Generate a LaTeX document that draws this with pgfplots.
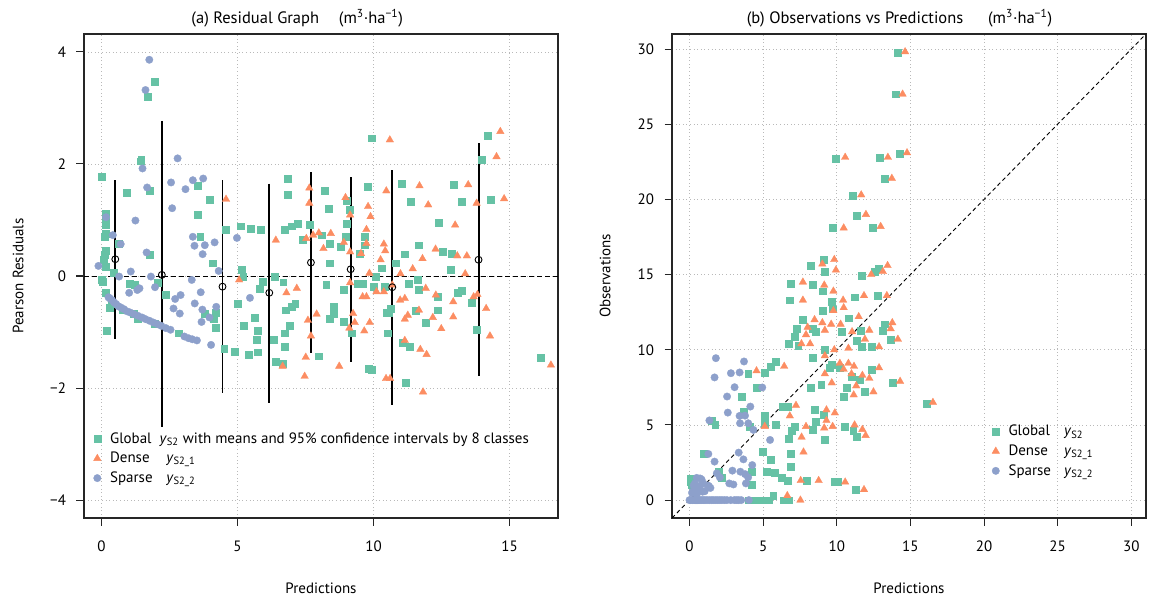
\documentclass[border=0pt]{standalone}
\usepackage{fontspec}
\setmainfont{PT Sans}
\usepackage{pgfplots}
\pgfplotsset{compat=1.18}

\definecolor{cG}{HTML}{66C2A5}
\definecolor{cD}{HTML}{FC8D62}
\definecolor{cS}{HTML}{8DA0CB}

\pgfplotsset{
  rstyle/.style={
    scale only axis, width=316pt, height=322.67pt,
    axis line style={line width=0.7pt, black!85},
    tick style={line width=0.7pt, black!85},
    tick align=outside, major tick length=5pt,
    xtick pos=bottom, ytick pos=left,
    grid=major, major grid style={dotted, gray!55, line width=0.5pt},
    ticklabel style={font=\fontsize{10}{12}\selectfont},
    label style={font=\fontsize{10}{12}\selectfont},
    title style={font=\fontsize{11}{13}\selectfont},
    xticklabel shift=6.5pt, yticklabel shift=3.5pt,
    xlabel style={at={(axis description cs:0.5,0)}, anchor=center, yshift=-46.7pt},
    legend style={draw=none, fill=none, font=\fontsize{10}{12}\selectfont, row sep=0.5pt,
      /tikz/every odd column/.append style={column sep=4pt}},
    legend cell align=left,
    /pgf/number format/assume math mode=true,
  },
  gS/.style={only marks, mark=square*, mark size=2.3pt, mark options={fill=cG, draw=cG, line width=0.2pt}},
  dS/.style={only marks, mark=triangle*, mark size=2.9pt, mark options={fill=cD, draw=cD, line width=0.2pt}},
  sS/.style={only marks, mark=*, mark size=2.5pt, mark options={fill=cS, draw=cS, line width=0.2pt}},
}

\begin{document}
\begin{tikzpicture}
\path[use as bounding box] (0,0) rectangle (782.67pt,398.67pt);

% (a) residuals
\begin{axis}[rstyle,
  at={(56pt,53.33pt)}, anchor=south west,
  xmin=-0.64, xmax=16.78, ymin=-4.32, ymax=4.32,
  xtick={0,5,10,15},
  ytick={-4,-2,0,2,4}, yticklabels={−4,−2,0,2,4},
  xlabel={Predictions},
  ylabel={Pearson Residuals},
  ylabel style={at={(axis description cs:-0.139,0.5)}, anchor=center},
  title={(a) Residual Graph\hspace{1.2em}(m\textsuperscript{3}·ha\textsuperscript{−1})},
  title style={at={(axis description cs:0.45,1)}, anchor=center, yshift=4.7pt},
  legend style={at={(axis description cs:0.01,0.19)}, anchor=north west},
]
\addplot[gS] coordinates {
(0.02,1.77)(0.14,1.12)(0.17,1.03)(0.16,0.91)(0.14,0.76)(0.11,0.70)(0.14,0.46)(0.11,0.38)
(0.08,0.29)(0.16,0.17)(0.46,0.06)(0.02,-0.06)(0.05,-0.10)(0.14,-0.30)(0.31,-0.56)(0.37,-0.49)
(0.19,-0.98)(0.94,1.48)(0.63,0.58)(1.45,2.05)(1.77,1.52)(1.77,0.38)(1.05,-0.13)(1.22,-0.15)
(0.77,-0.61)(1.17,-0.67)(1.34,-0.76)(1.97,-0.85)(2.08,-0.12)(2.37,-0.34)(2.83,-1.02)(3.54,1.61)
(3.54,1.09)(3.63,0.70)(3.99,1.36)(4.08,0.23)(3.80,-0.67)(4.14,-0.76)(4.20,-0.92)(4.20,-0.65)
(4.57,0.83)(4.51,-1.29)(4.91,-1.35)(5.11,0.89)(5.14,0.11)(5.21,-0.01)(5.00,-0.50)(5.23,-0.88)
(5.40,-1.41)(5.74,-1.36)(5.49,0.85)(5.84,0.82)(5.63,-0.74)(5.74,-0.98)(5.69,-1.14)(5.80,-0.22)
(5.92,-0.10)(6.37,-0.01)(6.32,-1.13)(6.41,-1.53)(6.66,-1.56)(6.72,-1.26)(6.75,-1.02)(6.77,-0.61)
(7.00,-0.54)(7.12,-0.50)(6.91,-0.88)(6.68,-0.11)(6.72,0.83)(6.98,0.89)(7.20,0.94)(6.85,1.73)
(6.83,1.46)(7.38,0.65)(7.65,0.91)(7.97,-1.43)(8.20,1.52)(8.35,1.20)(8.40,0.23)(8.26,-0.16)
(8.40,0.58)(8.55,-0.55)(8.55,-0.67)(8.38,-0.76)(8.78,0.52)(1.94,3.47)(1.70,3.20)(1.46,2.07)
(9.92,2.46)(8.10,0.73)(9.02,1.35)(9.11,1.18)(9.00,0.94)(8.97,0.70)(9.66,0.70)(9.69,0.55)
(9.77,1.60)(9.48,0.40)(8.91,-0.25)(9.43,-0.14)(9.60,-0.14)(10.00,-0.19)(10.08,-0.01)(10.31,0.14)
(10.80,0.23)(11.15,0.39)(11.03,1.65)(11.38,1.33)(11.67,0.55)(11.63,-0.07)(11.29,-0.13)(11.67,-0.25)
(10.63,-0.58)(10.49,-0.65)(11.55,-0.62)(11.90,-0.83)(12.36,-0.61)(12.36,-0.37)(12.41,0.95)(12.53,0.43)
(12.87,0.40)(12.82,0.11)(12.95,1.63)(13.25,1.33)(13.10,-0.30)(13.25,-0.26)(13.62,-0.48)(13.79,-0.96)
(13.99,2.08)(14.20,2.50)(14.31,1.37)(10.52,-1.02)(9.83,-1.65)(9.94,-1.67)(11.18,-1.90)(11.07,-1.19)
(11.34,-1.26)(16.13,-1.45)(9.20,-1.02)(8.91,-0.82)(10.40,-0.19)(10.57,-0.65)
};
\addlegendentry{Global\ \ \textit{y}\textsubscript{S2} with means and 95\% confidence intervals by 8 classes}
\addplot[dS] coordinates {
(4.58,1.37)(5.06,-0.07)(6.41,0.64)(6.80,-0.30)(7.18,-0.22)(6.66,-1.61)(7.64,1.57)(7.64,1.30)
(7.53,0.67)(7.78,0.73)(7.99,0.77)(8.43,0.76)(8.16,0.49)(8.97,1.40)(9.14,1.09)(9.80,1.24)
(9.89,1.06)(9.74,0.83)(9.74,0.58)(8.91,0.60)(9.54,0.40)(9.14,0.43)(10.47,1.52)(10.38,0.57)
(10.43,0.45)(10.26,0.29)(9.85,0.05)(10.99,0.04)(11.44,0.13)(11.69,1.61)(12.01,1.27)(12.28,0.48)
(11.80,0.31)(11.92,-0.22)(12.29,-0.34)(13.00,0.91)(13.48,1.63)(13.79,1.30)(13.37,0.04)(13.08,0.36)
(13.43,0.36)(13.68,-0.37)(13.82,-0.33)(14.14,-0.58)(14.28,-1.07)(14.52,2.13)(14.66,2.58)(14.80,1.38)
(10.60,2.43)(7.59,-0.79)(7.91,-0.68)(7.70,-1.07)(7.51,-1.45)(7.47,-1.79)(8.74,-1.61)(9.14,-0.12)
(9.60,-0.37)(9.74,-0.37)(10.11,-0.28)(10.38,-0.28)(10.69,-0.16)(10.98,-0.43)(11.15,-0.40)(11.26,-0.70)
(11.15,-0.77)(11.67,-0.61)(12.18,-0.74)(12.49,-0.94)(12.93,-0.46)(12.93,-0.73)(9.86,-0.83)(9.25,-0.67)
(9.31,-0.83)(9.11,-0.93)(9.66,-0.98)(11.15,-1.15)(11.72,-1.31)(11.95,-1.40)(10.46,-1.83)(10.61,-1.83)
(11.82,-2.07)(16.52,-1.59)
};
\addlegendentry{\makebox[3.75em][l]{Dense}\textit{y}\textsubscript{S2\_1}}
\addplot[sS] coordinates {
(-0.11,0.18)(0.17,1.05)(0.42,0.73)(0.71,0.57)(0.65,-0.01)(1.08,0.08)(1.25,0.99)(1.51,1.92)
(1.68,1.58)(1.66,0.42)(1.02,-0.30)(1.32,-0.25)(1.40,-0.22)(1.82,-0.01)(1.97,-0.20)(2.56,1.67)
(2.80,2.10)(2.60,1.21)(3.09,1.55)(3.36,1.71)(3.74,1.74)(3.36,0.70)(3.42,0.54)(3.80,0.55)
(3.72,0.39)(4.16,0.60)(4.31,0.09)(3.32,-0.07)(2.91,-0.34)(2.71,-0.41)(2.65,-0.58)(2.88,-0.67)
(3.43,-0.49)(3.65,-0.29)(3.71,-0.60)(3.68,-0.82)(3.97,-0.74)(4.22,-0.55)(4.03,-1.23)(4.98,0.68)
(5.46,-0.39)(1.76,3.86)(1.62,3.32)(0.26,-0.38)
(0.31,-0.40)(0.39,-0.43)(0.46,-0.47)(0.54,-0.50)(0.62,-0.54)(0.71,-0.56)(0.82,-0.59)(0.94,-0.63)
(1.05,-0.65)(1.19,-0.68)(1.34,-0.71)(1.49,-0.74)(1.62,-0.77)(1.77,-0.80)(1.91,-0.83)(2.06,-0.86)
(2.20,-0.89)(2.37,-0.93)(2.54,-0.96)(3.05,-1.08)(3.20,-1.11)(3.34,-1.13)(3.51,-1.15)
};
\addlegendentry{\makebox[3.75em][l]{Sparse}\textit{y}\textsubscript{S2\_2}}
\addplot[black, line width=0.6pt, dash pattern=on 3.3pt off 2pt, forget plot] coordinates {(-0.64,0)(16.78,0)};
\addplot[black, line width=1.3pt, unbounded coords=jump, forget plot] coordinates {
(0.51,1.71)(0.51,-1.125)(0.51,nan)
(2.22,2.77)(2.22,-2.70)(2.22,nan)
(4.45,1.71)(4.45,-2.08)(4.45,nan)
(6.17,1.65)(6.17,-2.26)(6.17,nan)
(7.70,1.85)(7.70,-1.37)(7.70,nan)
(9.16,1.76)(9.16,-1.54)(9.16,nan)
(10.69,1.89)(10.69,-2.30)(10.69,nan)
(13.86,2.37)(13.86,-1.79)
};
\addplot[only marks, mark=o, mark size=2.3pt, mark options={black, line width=0.6pt}, forget plot] coordinates {
(0.51,0.30)(2.22,0.02)(4.45,-0.19)(6.17,-0.30)(7.70,0.24)(9.16,0.12)(10.69,-0.20)(13.86,0.29)
};
\end{axis}

% (b) observations vs predictions
\begin{axis}[rstyle,
  at={(448pt,53.33pt)}, anchor=south west,
  xmin=-1.19, xmax=31, ymin=-1.19, ymax=31,
  xtick={0,5,...,30}, ytick={0,5,...,30},
  xlabel={Predictions},
  ylabel={Observations},
  ylabel style={at={(axis description cs:-0.141,0.5)}, anchor=center},
  title={(b) Observations vs Predictions\hspace{1.5em}(m\textsuperscript{3}·ha\textsuperscript{−1})},
  title style={at={(axis description cs:0.48,1)}, anchor=center, yshift=4.7pt},
  legend style={at={(axis description cs:0.665,0.205)}, anchor=north west},
]
\addplot[gS] coordinates {
(14.15,29.78)(13.98,27.0)(14.3,23.04)(9.9,22.73)(12.94,22.76)(13.23,21.4)(11.06,20.22)(11.38,18.93)
(9.74,18.1)(12.45,18.1)(8.23,15.6)(9.13,16.0)(9.19,15.2)(11.7,14.9)(12.55,15.2)(12.85,15.4)
(6.85,14.4)(8.38,14.3)(9.02,13.9)(9.66,13.2)(6.81,13.3)(11.21,13.5)(12.8,13.6)(9.02,12.6)
(9.72,12.7)(10.79,12.1)(7.66,12.0)(7.28,11.4)(7.11,10.9)(6.74,10.4)(7.38,10.3)(8.38,11.4)
(8.55,11.2)(10.36,11.2)(11.64,11.3)(11.32,10.6)(11.7,10.2)(12.38,10.2)(13.23,11.7)(13.13,11.3)
(13.66,10.7)(9.15,10.0)(8.38,9.5)(9.66,9.0)(9.5,8.8)(10.21,8.8)(11.0,8.2)(12.38,8.7)
(11.57,8.0)(10.64,7.5)(10.47,6.9)(11.91,7.2)(13.77,7.8)(8.94,7.7)(8.23,7.5)(6.32,6.2)
(6.68,6.2)(8.51,6.0)(9.09,5.7)(8.55,5.2)(8.38,4.7)(9.19,4.0)(7.11,4.9)(6.96,4.6)
(6.74,4.1)(10.51,4.9)(11.11,4.6)(11.36,4.2)(5.83,9.2)(5.49,8.9)(5.11,8.5)(3.98,8.4)
(4.55,7.5)(3.55,6.9)(3.66,5.9)(1.53,5.3)(1.74,5.0)(4.09,4.9)(5.11,5.6)(5.11,5.1)
(5.83,5.0)(4.94,3.2)(5.53,2.7)(6.89,3.1)(6.89,2.2)(0.94,3.1)(4.19,1.9)(5.26,1.9)
(5.79,1.8)(6.26,1.5)(6.68,1.3)(7.96,1.3)(9.83,1.2)(10.05,1.25)(11.28,0.7)(2.17,1.5)
(2.0,1.9)(4.19,1.0)(0.04,1.4)(0.15,1.0)(0.08,1.2)(5.68,0.3)(4.04,0)(4.4,0)
(4.77,0)(5.04,0)(5.36,0)(6.4,0)(6.73,0)(16.1,6.4)
};
\addlegendentry{\makebox[3.7em][l]{Global}\textit{y}\textsubscript{S2}}
\addplot[dS] coordinates {
(14.64,29.82)(14.47,27.0)(14.77,23.1)(10.57,22.8)(13.47,22.8)(13.74,21.4)(11.66,20.3)(11.98,19.0)
(10.47,18.1)(12.98,18.2)(9.02,15.7)(9.83,16.0)(9.94,15.3)(12.34,15.0)(13.13,15.2)(13.45,15.6)
(7.70,14.5)(9.15,14.3)(9.77,13.9)(10.43,13.3)(7.70,13.3)(11.85,13.6)(13.4,13.6)(9.77,12.6)
(10.47,12.8)(11.49,12.2)(8.49,12.0)(9.02,11.8)(9.62,11.7)(10.26,11.7)(8.02,11.5)(7.91,11.0)
(9.19,11.3)(11.04,11.2)(12.21,11.3)(11.91,10.7)(12.87,10.2)(13.77,11.8)(13.66,11.4)(14.15,10.7)
(8.19,10.4)(7.60,10.4)(9.83,10.0)(10.79,10.1)(9.19,9.6)(10.21,9.1)(10.47,8.7)(10.79,9.1)
(11.17,8.9)(11.0,8.4)(11.74,8.3)(12.87,8.8)(12.21,8.1)(11.32,7.6)(11.15,7.0)(12.49,7.2)
(14.3,7.9)(9.19,8.4)(9.66,7.8)(7.23,6.3)(6.81,5.6)(9.30,6.0)(9.87,5.8)(9.30,5.3)
(9.15,4.8)(9.72,4.9)(7.91,4.9)(7.61,4.19)(7.74,3.2)(11.21,5.0)(11.74,4.7)(11.96,4.3)
(5.11,4.9)(6.43,8.9)(4.55,8.6)(7.55,1.3)(8.77,1.3)(10.57,1.2)(11.85,0.7)(6.64,0.3)
(7.53,0)(16.53,6.5)
};
\addlegendentry{\makebox[3.7em][l]{Dense}\textit{y}\textsubscript{S2\_1}}
\addplot[sS] coordinates {
(1.79,9.44)(1.70,8.16)(3.70,9.22)(2.81,8.44)(3.40,8.49)(3.06,7.51)(4.94,7.49)(2.55,6.89)
(4.13,6.22)(2.6,5.82)(3.40,5.6)(3.77,5.62)(1.35,5.3)(3.43,5.11)(3.99,5.11)(4.34,4.67)
(5.47,4.0)(1.28,3.07)(1.7,2.56)(3.34,3.16)(3.66,2.71)(4.26,2.33)(1.85,1.78)(2.91,1.96)
(3.45,1.89)(3.77,1.73)(2.06,1.51)(2.70,1.11)(2.98,1.04)(3.83,1.11)(3.98,1.51)(0.72,1.44)
(0.49,1.48)(0.82,1.37)(0.36,1.11)(0.94,1.11)(1.32,0.93)(0.28,0.97)(0.71,0.95)(1.24,0.97)
(1.42,0.81)(0.47,0.67)(0.89,0.56)(0.21,0.56)(1.03,0.59)(0.17,0.48)(0.49,0.37)
(0,0)(0.08,0)(0.2,0)(0.31,0)(0.39,0)(0.46,0)(0.54,0)(0.62,0)(0.71,0)(0.82,0)(0.94,0)
(1.05,0)(1.19,0)(1.34,0)(1.49,0)(1.62,0)(1.77,0)(1.91,0)(2.06,0)(2.20,0)(2.37,0)(2.54,0)
(2.8,0)(3.05,0)(3.20,0)(3.34,0)(3.51,0)(4.03,0)
};
\addlegendentry{\makebox[3.7em][l]{Sparse}\textit{y}\textsubscript{S2\_2}}
\addplot[black, line width=0.6pt, dash pattern=on 2.7pt off 2pt, forget plot] coordinates {(-1.19,-1.19)(31,31)};
\end{axis}
\end{tikzpicture}
\end{document}
